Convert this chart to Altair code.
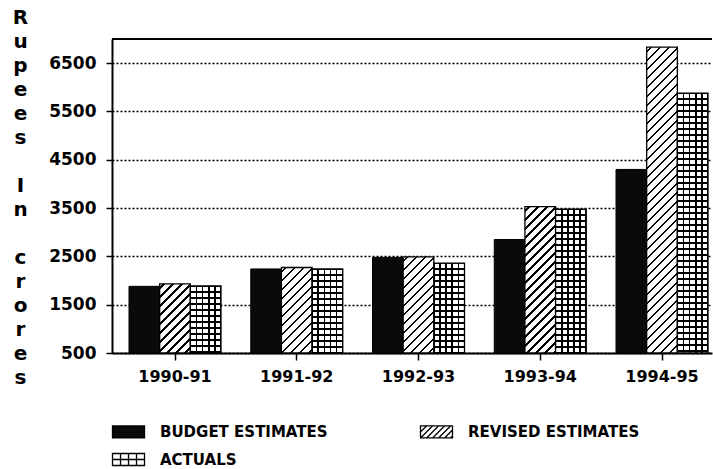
import math
import altair as alt
import pandas as pd

# ---------------- data ----------------
years = ["1990-91", "1991-92", "1992-93", "1993-94", "1994-95"]
series = ["BUDGET ESTIMATES", "REVISED ESTIMATES", "ACTUALS"]
budget = [1880, 2240, 2480, 2850, 4300]
revised = [1930, 2270, 2490, 3530, 6830]
actuals = [1890, 2240, 2360, 3480, 5880]
y_ticks = [500, 1500, 2500, 3500, 4500, 5500, 6500]
y_title = ["R", "u", "p", "e", "e", "s", "\u200b", "I", "n", "\u200b", "c", "r", "o", "r", "e", "s"]

# ---------------- layout ----------------
Y_MIN, Y_MAX = 500, 7000
W, H = 600, 314
PAD_INNER, PAD_OUTER, ALIGN = 0.2444, 0.0862, 0.81
FONT = "DejaVu Sans"

rows = []
for i, yr in enumerate(years):
    for s, vals in zip(series, [budget, revised, actuals]):
        rows.append({"year": yr, "series": s, "value": vals[i], "idx": i})
df = pd.DataFrame(rows)

step = W / (len(years) - PAD_INNER + 2 * PAD_OUTER)
bar_w = step * (1 - PAD_INNER) / 3


def bar_h(v):
    return (v - Y_MIN) / (Y_MAX - Y_MIN) * H


def stops_from(segs, on, off):
    """segs: list of (a, b) fractions in [0,1] painted with `on`."""
    st = [{"offset": 0, "color": off}]
    for a, b in segs:
        a = max(0.0, min(1.0, a))
        b = max(0.0, min(1.0, b))
        if b <= a:
            continue
        st += [{"offset": a, "color": off}, {"offset": a, "color": on},
               {"offset": b, "color": on}, {"offset": b, "color": off}]
    st.append({"offset": 1, "color": off})
    return st


def hatch_fill(v, period=9.0, line=2.6):
    w, h = bar_w, bar_h(v)
    tot = w + h
    k = tot / (w * w + h * h)
    segs = []
    j = 0
    while j * period < tot + period:
        c = j * period + period / 2
        segs.append(((c - line / 2) / tot, (c + line / 2) / tot))
        j += 1
    return {"gradient": "linear", "x1": 0, "y1": 0, "x2": w * k, "y2": h * k,
            "stops": stops_from(segs, "black", "white")}


def vstripe_fill(cols=5, line=1.7):
    lw = line / bar_w
    segs = [(c / cols - lw / 2, c / cols + lw / 2) for c in range(cols + 1)]
    return {"gradient": "linear", "x1": 0, "y1": 0, "x2": 1, "y2": 0,
            "stops": stops_from(segs, "black", "white")}


def hstripe_fill(v, period=6.0, line=1.7):
    h = bar_h(v)
    segs = []
    y = 0.0
    while y < h + period:
        segs.append(((y - line / 2) / h, (y + line / 2) / h))
        y += period
    return {"gradient": "linear", "x1": 0, "y1": 0, "x2": 0, "y2": 1,
            "stops": stops_from(segs, "black", "rgba(0,0,0,0)")}


# legend symbol paths (unit = 6 px for symbol size 144)
HW, HH = 16 / 6, 1.0


def f(n):
    return f"{n:.3f}"


rect_path = f"M{f(-HW)},{f(-HH)}H{f(HW)}V{f(HH)}H{f(-HW)}Z"
hatch_parts = [rect_path]
x0 = -HW - 2
while x0 < HW:
    t0 = max(0.0, -HW - x0)
    t1 = min(2.0, HW - x0)
    if t1 > t0:
        hatch_parts.append(f"M{f(x0 + t0)},{f(1 - t0)}L{f(x0 + t1)},{f(1 - t1)}")
    x0 += 1.0
hatch_path = "".join(hatch_parts)
grid_parts = [rect_path]
for kk in range(1, 4):
    xx = -HW + kk * (2 * HW / 4)
    grid_parts.append(f"M{f(xx)},{f(-HH)}V{f(HH)}")
grid_parts.append(f"M{f(-HW)},0H{f(HW)}")
grid_path = "".join(grid_parts)

# ---------------- encodings ----------------
x_enc = alt.X(
    "year:N", sort=years, title=None,
    scale=alt.Scale(domain=years, paddingInner=PAD_INNER, paddingOuter=PAD_OUTER, align=ALIGN),
    axis=alt.Axis(labelAngle=0, labelFont=FONT, labelFontSize=16, labelFontWeight="bold",
                  labelColor="black", labelPadding=8, tickSize=7, tickWidth=1.5,
                  tickColor="black", domainColor="black", domainWidth=2, grid=False),
)
xoff_enc = alt.XOffset("series:N", sort=series,
                       scale=alt.Scale(domain=series, paddingInner=0, paddingOuter=0))
y_enc = alt.Y(
    "value:Q",
    scale=alt.Scale(domain=[Y_MIN, Y_MAX], zero=False, nice=False),
    axis=alt.Axis(values=y_ticks, format="d", labelFont=FONT, labelFontSize=17,
                  labelFontWeight="bold", labelColor="black", labelPadding=10,
                  tickSize=6, tickWidth=1.5, tickColor="black",
                  domainColor="black", domainWidth=2,
                  grid=True, gridColor="black", gridDash=[2, 2], gridWidth=1.5,
                  title=y_title, titleAngle=0, titleX=-92, titleY=-16,
                  titleAlign="center", titleBaseline="alphabetic",
                  titleFont=FONT, titleFontSize=20, titleFontWeight="bold",
                  titleColor="black", titleLineHeight=24),
)
y2_enc = alt.datum(Y_MIN)

base = alt.Chart(df)
layers = []

layers.append(
    base.mark_bar(fill="#0a0a0a", stroke="black", strokeWidth=1)
    .encode(x=x_enc, xOffset=xoff_enc, y=y_enc, y2=y2_enc)
    .transform_filter(f"datum.series == '{series[0]}'")
)
for i, v in enumerate(revised):
    layers.append(
        base.mark_bar(fill=hatch_fill(v), stroke="black", strokeWidth=1.3)
        .encode(x=x_enc, xOffset=xoff_enc, y=y_enc, y2=y2_enc)
        .transform_filter(f"datum.series == '{series[1]}' && datum.idx == {i}")
    )
layers.append(
    base.mark_bar(fill=vstripe_fill())
    .encode(x=x_enc, xOffset=xoff_enc, y=y_enc, y2=y2_enc)
    .transform_filter(f"datum.series == '{series[2]}'")
)
for i, v in enumerate(actuals):
    layers.append(
        base.mark_bar(fill=hstripe_fill(v), stroke="black", strokeWidth=1.3)
        .encode(x=x_enc, xOffset=xoff_enc, y=y_enc, y2=y2_enc)
        .transform_filter(f"datum.series == '{series[2]}' && datum.idx == {i}")
    )

legend_props = dict(
    title=None, orient="none", legendX=9, legendY=385, columns=2,
    direction="horizontal",
    columnPadding=89, rowPadding=9, padding=0,
    symbolSize=144, symbolStrokeColor="black", symbolStrokeWidth=1.3,
    symbolOpacity=1, labelFont=FONT, labelFontSize=15, labelFontWeight="bold",
    labelColor="black", labelOffset=24, labelLimit=0,
)
layers.append(
    base.mark_point(filled=True, opacity=0)
    .encode(
        x=x_enc, xOffset=xoff_enc, y=y_enc,
        fill=alt.Fill("series:N", sort=series,
                      scale=alt.Scale(domain=series, range=["#0a0a0a", "white", "white"]),
                      legend=alt.Legend(**legend_props)),
        stroke=alt.Stroke("series:N", sort=series,
                          scale=alt.Scale(domain=series, range=["black", "black", "black"]),
                          legend=alt.Legend(**legend_props)),
        shape=alt.Shape("series:N", sort=series,
                        scale=alt.Scale(domain=series, range=[rect_path, hatch_path, grid_path]),
                        legend=alt.Legend(**legend_props)),
    )
)
layers.append(
    alt.Chart(df).mark_rule(color="black", strokeWidth=2).encode(y=alt.datum(Y_MAX))
)

chart = (
    alt.layer(*layers)
    .properties(
        width=W, height=H,
        autosize=alt.AutoSizeParams(type="none"),
        padding={"left": 112, "top": 39, "right": 1, "bottom": 116},
        background="white",
    )
    .configure_view(stroke=None)
)

chart.save("out.html", embed_options={"renderer": "svg", "actions": False})
